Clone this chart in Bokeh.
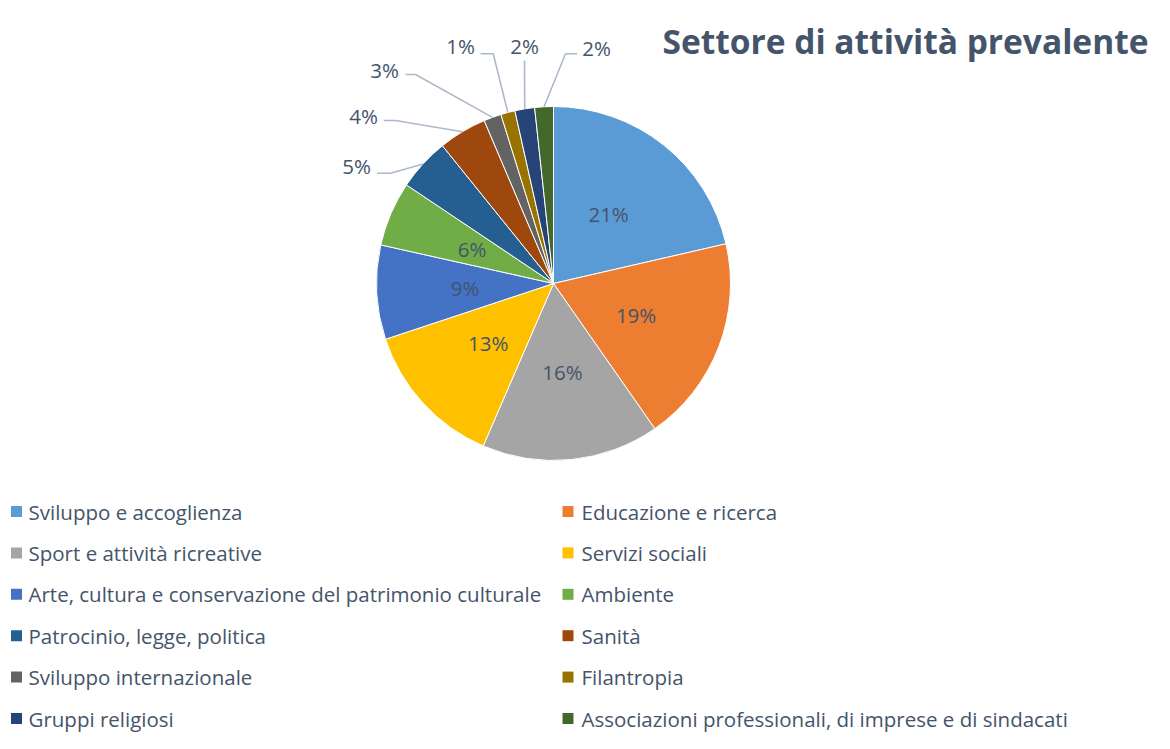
import math
from bokeh.plotting import figure
from bokeh.models import Range1d, ColumnDataSource
from bokeh.core.properties import value
from bokeh.embed import file_html
from bokeh.resources import INLINE

# ---- data ----
categories = [
    "Sviluppo e accoglienza", "Educazione e ricerca",
    "Sport e attività ricreative", "Servizi sociali",
    "Arte, cultura e conservazione del patrimonio culturale", "Ambiente",
    "Patrocinio, legge, politica", "Sanità",
    "Sviluppo internazionale", "Filantropia",
    "Gruppi religiosi", "Associazioni professionali, di imprese e di sindacati",
]
shares = [21.4, 18.9, 16.2, 13.4, 8.6, 5.9, 4.8, 4.4, 1.6, 1.3, 1.8, 1.7]
pct_labels = ["21%", "19%", "16%", "13%", "9%", "6%", "5%", "4%", "3%", "1%", "2%", "2%"]
colors = ["#5B9BD5", "#ED7D31", "#A5A5A5", "#FFC000", "#4472C4", "#70AD47",
          "#255E91", "#9E480E", "#636363", "#997300", "#264478", "#43682B"]
title = "Settore di attività prevalente"

# ---- layout (figure pixel coordinates, top-left origin) ----
W, H = 1154, 733
def Y(y):
    return H - y

CX, CY, R = 553, Y(283), 177
TXT = "#44546A"
FONT = value("Open Sans")

p = figure(width=W, height=H, x_range=Range1d(0, W), y_range=Range1d(0, H),
           output_backend="svg", toolbar_location=None, min_border=0,
           x_axis_type=None, y_axis_type=None)
p.grid.visible = False
p.outline_line_color = None
p.background_fill_color = "white"
p.border_fill_color = "white"

total = sum(shares)
starts, ends, mids = [], [], []
cum = 0.0
for s in shares:
    a0 = math.pi / 2 - 2 * math.pi * (cum + s) / total
    a1 = math.pi / 2 - 2 * math.pi * cum / total
    starts.append(a0); ends.append(a1); mids.append((a0 + a1) / 2)
    cum += s

src = ColumnDataSource(dict(start=starts, end=ends, color=colors, cat=categories))
p.wedge(x=CX, y=CY, radius=R, start_angle="start", end_angle="end",
        fill_color="color", line_color="white", line_width=1, source=src)

# inside labels (first six slices)
n_in = 6
ix = [CX + 0.5 * R * math.cos(m) for m in mids[:n_in]]
iy = [CY + 0.5 * R * math.sin(m) for m in mids[:n_in]]
p.text(x=ix, y=iy, text=pct_labels[:n_in], text_align="center", text_baseline="middle",
       text_font=FONT, text_font_size="20.5px", text_color=TXT)

# outside labels with leader lines: (label center, elbow, line end)
outside_layout = [
    ((356, 165), (390, 172.7), (376.7, 172.7)),
    ((363, 115), (395, 120), (383.3, 120)),
    ((384, 69), (415, 74), (405, 74)),
    ((460, 45), (492.7, 53.3), (480, 53.3)),
    ((524, 45), (524, 60), (524, 60)),
    ((596, 47), (565, 53.3), (576.7, 53.3)),
]
lxs, lys, ltx = [], [], []
for k, (lab, elb, end) in enumerate(outside_layout):
    i = n_in + k
    ax = CX + R * math.cos(mids[i])
    ay = CY + R * math.sin(mids[i])
    p.line(x=[ax, elb[0], end[0]], y=[ay, Y(elb[1]), Y(end[1])],
           line_color="#ADB9CA", line_width=1.6)
    lxs.append(lab[0]); lys.append(Y(lab[1])); ltx.append(pct_labels[i])
p.text(x=lxs, y=lys, text=ltx, text_align="center", text_baseline="middle",
       text_font=FONT, text_font_size="20.5px", text_color=TXT)

# title
p.text(x=[1148], y=[Y(40)], text=[title], text_align="right", text_baseline="alphabetic",
       text_font=FONT, text_font_size="33.5px", text_font_style="bold", text_color=TXT)

# legend (two columns)
row0, row_gap = 511, 41.4
sw_x = [16, 567.5]
tx_x = [28, 581]
sx, sy, tx, ty = [], [], [], []
for i, c in enumerate(categories):
    r, col = divmod(i, 2)
    yy = Y(row0 + r * row_gap)
    sx.append(sw_x[col]); sy.append(yy)
    tx.append(tx_x[col]); ty.append(yy)
p.rect(x=sx, y=sy, width=11, height=11, fill_color=colors, line_color=None)
p.text(x=tx, y=ty, text=categories, text_align="left", text_baseline="middle",
       text_font=FONT, text_font_size="20.5px", text_color=TXT)

open("out.html", "w").write(file_html(p, INLINE))
